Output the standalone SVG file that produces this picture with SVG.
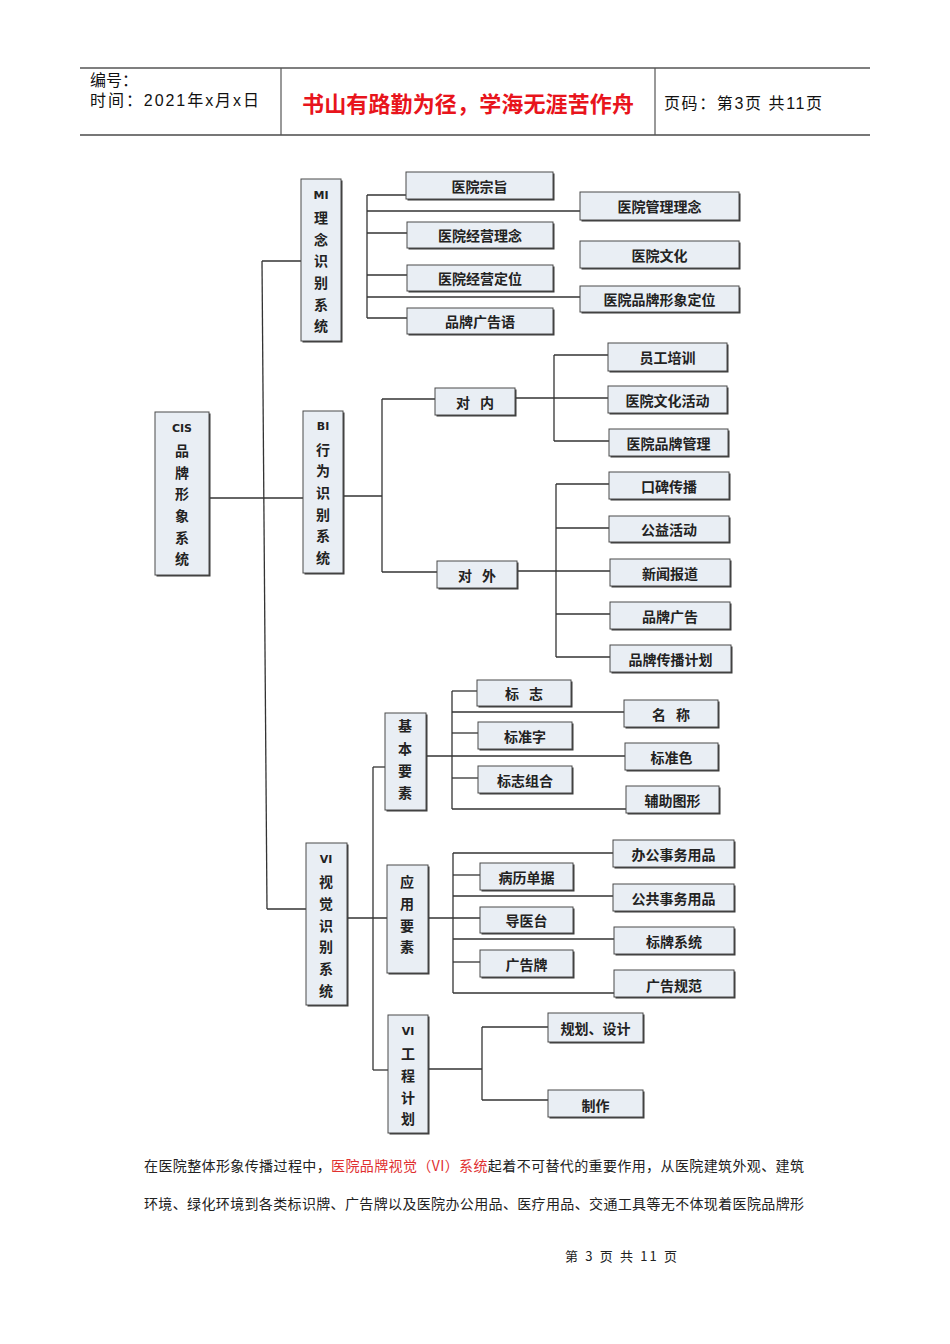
<svg xmlns="http://www.w3.org/2000/svg" width="950" height="1344" viewBox="0 0 950 1344">
<style>
.bx{fill:#e9eef4;stroke:#4a4a4a;stroke-width:1}
.sh{fill:#3a3a3a}
.t{font-family:"Noto Sans CJK SC","Noto Sans",sans-serif;font-size:14px;font-weight:bold;fill:#222;text-anchor:middle;dominant-baseline:central}
.lt{font-family:"DejaVu Sans","Liberation Sans",sans-serif;font-size:11px;font-weight:bold;fill:#222;text-anchor:middle;dominant-baseline:central}
.c line,.c polyline{stroke:#333;stroke-width:1.3;fill:none}
.h{font-family:"Liberation Sans","Noto Sans CJK SC",sans-serif;font-size:16px;fill:#111}
.p{font-family:"Noto Sans CJK SC",sans-serif;font-size:14px;fill:#222}
</style>
<rect width="950" height="1344" fill="#fff"/>
<g id="header">
<line x1="80" y1="68" x2="870" y2="68" stroke="#555" stroke-width="1.5"/>
<line x1="80" y1="135" x2="870" y2="135" stroke="#777" stroke-width="2"/>
<line x1="281" y1="68" x2="281" y2="135" stroke="#555" stroke-width="1.2"/>
<line x1="655" y1="68" x2="655" y2="135" stroke="#555" stroke-width="1.2"/>
<text class="h" x="90" y="86">编号：</text>
<text class="h" x="90" y="106" textLength="169" lengthAdjust="spacing">时间：2021年x月x日</text>
<text x="468" y="112" font-family="Noto Sans CJK SC,sans-serif" font-size="22" font-weight="bold" fill="#e8141c" text-anchor="middle" textLength="332" lengthAdjust="spacing">书山有路勤为径，学海无涯苦作舟</text>
<text class="h" x="664" y="109" textLength="158" lengthAdjust="spacing">页码：第3页 共11页</text>
</g>
<g id="connectors" class="c">
<line x1="262" y1="261" x2="301" y2="261"/>
<line x1="262" y1="261" x2="267" y2="909"/>
<line x1="267" y1="909" x2="306" y2="909"/>
<line x1="367" y1="195" x2="367" y2="318"/>
<line x1="367" y1="195" x2="406" y2="195"/>
<line x1="367" y1="211" x2="580" y2="211"/>
<line x1="367" y1="233" x2="407" y2="233"/>
<line x1="367" y1="275" x2="407" y2="275"/>
<line x1="367" y1="297" x2="580" y2="297"/>
<line x1="367" y1="318" x2="407" y2="318"/>
<line x1="209" y1="498" x2="303" y2="498"/>
<line x1="343" y1="496" x2="382" y2="496"/>
<line x1="382" y1="399" x2="382" y2="572"/>
<line x1="382" y1="399" x2="435" y2="399"/>
<line x1="382" y1="572" x2="437" y2="572"/>
<line x1="515" y1="398" x2="608" y2="398"/>
<line x1="554" y1="355" x2="554" y2="441"/>
<line x1="554" y1="355" x2="608" y2="355"/>
<line x1="554" y1="441" x2="609" y2="441"/>
<line x1="517" y1="571" x2="610" y2="571"/>
<line x1="556" y1="484" x2="556" y2="657"/>
<line x1="556" y1="484" x2="609" y2="484"/>
<line x1="556" y1="528" x2="609" y2="528"/>
<line x1="556" y1="614" x2="610" y2="614"/>
<line x1="556" y1="657" x2="610" y2="657"/>
<line x1="347" y1="918" x2="387" y2="918"/>
<line x1="373" y1="767" x2="373" y2="1070"/>
<line x1="373" y1="767" x2="385" y2="767"/>
<line x1="373" y1="1070" x2="388" y2="1070"/>
<line x1="426" y1="756" x2="625" y2="756"/>
<line x1="452" y1="691" x2="452" y2="809"/>
<line x1="452" y1="691" x2="477" y2="691"/>
<line x1="452" y1="712" x2="624" y2="712"/>
<line x1="452" y1="733" x2="478" y2="733"/>
<line x1="452" y1="778" x2="478" y2="778"/>
<line x1="452" y1="809" x2="626" y2="809"/>
<line x1="428" y1="918" x2="480" y2="918"/>
<line x1="453" y1="853" x2="453" y2="993"/>
<line x1="453" y1="853" x2="613" y2="853"/>
<line x1="453" y1="875" x2="480" y2="875"/>
<line x1="453" y1="896" x2="613" y2="896"/>
<line x1="453" y1="939" x2="614" y2="939"/>
<line x1="453" y1="962" x2="480" y2="962"/>
<line x1="453" y1="993" x2="614" y2="993"/>
<line x1="428" y1="1069" x2="482" y2="1069"/>
<line x1="482" y1="1027" x2="482" y2="1100"/>
<line x1="482" y1="1027" x2="548" y2="1027"/>
<line x1="482" y1="1100" x2="548" y2="1100"/>
</g>
<g id="cis"><rect class="sh" x="156.5" y="413.5" width="54" height="163"/><rect class="bx" x="155" y="412" width="54" height="163"/>
<text class="lt" x="182" y="428">CIS</text><text class="t" x="182" y="450">品</text><text class="t" x="182" y="472">牌</text><text class="t" x="182" y="493">形</text><text class="t" x="182" y="515">象</text><text class="t" x="182" y="537">系</text><text class="t" x="182" y="558">统</text></g>
<g id="mi"><rect class="sh" x="302.5" y="180.5" width="40" height="162"/><rect class="bx" x="301" y="179" width="40" height="162"/>
<text class="lt" x="321" y="195">MI</text><text class="t" x="321" y="217">理</text><text class="t" x="321" y="239">念</text><text class="t" x="321" y="260">识</text><text class="t" x="321" y="282">别</text><text class="t" x="321" y="304">系</text><text class="t" x="321" y="325">统</text></g>
<g id="bi"><rect class="sh" x="304.5" y="412.5" width="40" height="162"/><rect class="bx" x="303" y="411" width="40" height="162"/>
<text class="lt" x="323" y="426">BI</text><text class="t" x="323" y="449">行</text><text class="t" x="323" y="470">为</text><text class="t" x="323" y="492">识</text><text class="t" x="323" y="514">别</text><text class="t" x="323" y="535">系</text><text class="t" x="323" y="557">统</text></g>
<g id="vi"><rect class="sh" x="307.5" y="844.5" width="41" height="162"/><rect class="bx" x="306" y="843" width="41" height="162"/>
<text class="lt" x="326" y="859">VI</text><text class="t" x="326" y="881">视</text><text class="t" x="326" y="903">觉</text><text class="t" x="326" y="925">识</text><text class="t" x="326" y="946">别</text><text class="t" x="326" y="968">系</text><text class="t" x="326" y="990">统</text></g>
<g id="jbys"><rect class="sh" x="386.5" y="714.5" width="41" height="97"/><rect class="bx" x="385" y="713" width="41" height="97"/>
<text class="t" x="405" y="725">基</text><text class="t" x="405" y="748">本</text><text class="t" x="405" y="770">要</text><text class="t" x="405" y="792">素</text></g>
<g id="yyys"><rect class="sh" x="388.5" y="866.5" width="41" height="108"/><rect class="bx" x="387" y="865" width="41" height="108"/>
<text class="t" x="407" y="881">应</text><text class="t" x="407" y="903">用</text><text class="t" x="407" y="925">要</text><text class="t" x="407" y="946">素</text></g>
<g id="vigc"><rect class="sh" x="389.5" y="1016.5" width="40" height="118"/><rect class="bx" x="388" y="1015" width="40" height="118"/>
<text class="lt" x="408" y="1031">VI</text><text class="t" x="408" y="1053">工</text><text class="t" x="408" y="1075">程</text><text class="t" x="408" y="1097">计</text><text class="t" x="408" y="1118">划</text></g>
<g id="n1"><rect class="sh" x="407.5" y="173.5" width="147" height="27"/><rect class="bx" x="406" y="172" width="147" height="27"/><text class="t" x="479.5" y="185.5">医院宗旨</text></g>
<g id="n2"><rect class="sh" x="581.5" y="193.5" width="159" height="28"/><rect class="bx" x="580" y="192" width="159" height="28"/><text class="t" x="659.5" y="206">医院管理理念</text></g>
<g id="n3"><rect class="sh" x="408.5" y="223.5" width="146" height="26"/><rect class="bx" x="407" y="222" width="146" height="26"/><text class="t" x="480" y="235">医院经营理念</text></g>
<g id="n4"><rect class="sh" x="581.5" y="242.5" width="159" height="27"/><rect class="bx" x="580" y="241" width="159" height="27"/><text class="t" x="659.5" y="254.5">医院文化</text></g>
<g id="n5"><rect class="sh" x="408.5" y="266.5" width="146" height="26"/><rect class="bx" x="407" y="265" width="146" height="26"/><text class="t" x="480" y="278">医院经营定位</text></g>
<g id="n6"><rect class="sh" x="581.5" y="287.5" width="159" height="26"/><rect class="bx" x="580" y="286" width="159" height="26"/><text class="t" x="659.5" y="299">医院品牌形象定位</text></g>
<g id="n7"><rect class="sh" x="408.5" y="309.5" width="146" height="26"/><rect class="bx" x="407" y="308" width="146" height="26"/><text class="t" x="480" y="321">品牌广告语</text></g>
<g id="n8"><rect class="sh" x="436.5" y="389.5" width="80" height="27"/><rect class="bx" x="435" y="388" width="80" height="27"/><text class="t" y="401.5"><tspan x="463">对</tspan><tspan x="487">内</tspan></text></g>
<g id="n9"><rect class="sh" x="438.5" y="562.5" width="80" height="27"/><rect class="bx" x="437" y="561" width="80" height="27"/><text class="t" y="574.5"><tspan x="465">对</tspan><tspan x="489">外</tspan></text></g>
<g id="n10"><rect class="sh" x="609.5" y="344.5" width="119" height="28"/><rect class="bx" x="608" y="343" width="119" height="28"/><text class="t" x="667.5" y="357">员工培训</text></g>
<g id="n11"><rect class="sh" x="609.5" y="387.5" width="119" height="27"/><rect class="bx" x="608" y="386" width="119" height="27"/><text class="t" x="667.5" y="399.5">医院文化活动</text></g>
<g id="n12"><rect class="sh" x="610.5" y="430.5" width="119" height="27"/><rect class="bx" x="609" y="429" width="119" height="27"/><text class="t" x="668.5" y="442.5">医院品牌管理</text></g>
<g id="n13"><rect class="sh" x="610.5" y="473.5" width="120" height="27"/><rect class="bx" x="609" y="472" width="120" height="27"/><text class="t" x="669" y="485.5">口碑传播</text></g>
<g id="n14"><rect class="sh" x="610.5" y="517.5" width="120" height="26"/><rect class="bx" x="609" y="516" width="120" height="26"/><text class="t" x="669" y="529">公益活动</text></g>
<g id="n15"><rect class="sh" x="611.5" y="560.5" width="120" height="27"/><rect class="bx" x="610" y="559" width="120" height="27"/><text class="t" x="670" y="572.5">新闻报道</text></g>
<g id="n16"><rect class="sh" x="611.5" y="603.5" width="120" height="27"/><rect class="bx" x="610" y="602" width="120" height="27"/><text class="t" x="670" y="615.5">品牌广告</text></g>
<g id="n17"><rect class="sh" x="611.5" y="646.5" width="121" height="27"/><rect class="bx" x="610" y="645" width="121" height="27"/><text class="t" x="670.5" y="658.5">品牌传播计划</text></g>
<g id="n18"><rect class="sh" x="478.5" y="681.5" width="94" height="26"/><rect class="bx" x="477" y="680" width="94" height="26"/><text class="t" y="693"><tspan x="512">标</tspan><tspan x="536">志</tspan></text></g>
<g id="n19"><rect class="sh" x="625.5" y="701.5" width="94" height="27"/><rect class="bx" x="624" y="700" width="94" height="27"/><text class="t" y="713.5"><tspan x="659">名</tspan><tspan x="683">称</tspan></text></g>
<g id="n20"><rect class="sh" x="479.5" y="723.5" width="94" height="27"/><rect class="bx" x="478" y="722" width="94" height="27"/><text class="t" x="525" y="735.5">标准字</text></g>
<g id="n21"><rect class="sh" x="626.5" y="744.5" width="93" height="27"/><rect class="bx" x="625" y="743" width="93" height="27"/><text class="t" x="671.5" y="756.5">标准色</text></g>
<g id="n22"><rect class="sh" x="479.5" y="767.5" width="94" height="27"/><rect class="bx" x="478" y="766" width="94" height="27"/><text class="t" x="525" y="779.5">标志组合</text></g>
<g id="n23"><rect class="sh" x="627.5" y="787.5" width="93" height="27"/><rect class="bx" x="626" y="786" width="93" height="27"/><text class="t" x="672.5" y="799.5">辅助图形</text></g>
<g id="n24"><rect class="sh" x="614.5" y="841.5" width="121" height="27"/><rect class="bx" x="613" y="840" width="121" height="27"/><text class="t" x="673.5" y="853.5">办公事务用品</text></g>
<g id="n25"><rect class="sh" x="481.5" y="864.5" width="93" height="27"/><rect class="bx" x="480" y="863" width="93" height="27"/><text class="t" x="526.5" y="876.5">病历单据</text></g>
<g id="n26"><rect class="sh" x="614.5" y="885.5" width="121" height="27"/><rect class="bx" x="613" y="884" width="121" height="27"/><text class="t" x="673.5" y="897.5">公共事务用品</text></g>
<g id="n27"><rect class="sh" x="481.5" y="908.5" width="93" height="26"/><rect class="bx" x="480" y="907" width="93" height="26"/><text class="t" x="526.5" y="920">导医台</text></g>
<g id="n28"><rect class="sh" x="615.5" y="928.5" width="120" height="27"/><rect class="bx" x="614" y="927" width="120" height="27"/><text class="t" x="674" y="940.5">标牌系统</text></g>
<g id="n29"><rect class="sh" x="481.5" y="951.5" width="93" height="27"/><rect class="bx" x="480" y="950" width="93" height="27"/><text class="t" x="526.5" y="963.5">广告牌</text></g>
<g id="n30"><rect class="sh" x="615.5" y="971.5" width="120" height="27"/><rect class="bx" x="614" y="970" width="120" height="27"/><text class="t" x="674" y="984.5">广告规范</text></g>
<g id="n31"><rect class="sh" x="549.5" y="1014.5" width="95" height="29"/><rect class="bx" x="548" y="1013" width="95" height="29"/><text class="t" x="595.5" y="1027.5">规划、设计</text></g>
<g id="n32"><rect class="sh" x="549.5" y="1091.5" width="95" height="27"/><rect class="bx" x="548" y="1090" width="95" height="27"/><text class="t" x="595.5" y="1104.5">制作</text></g>
<g id="body">
<text class="p" x="144" y="1171" textLength="660" lengthAdjust="spacing">在医院整体形象传播过程中，<tspan fill="#e03030">医院品牌视觉（VI）系统</tspan>起着不可替代的重要作用，从医院建筑外观、建筑</text>
<text class="p" x="144" y="1209" textLength="660" lengthAdjust="spacing">环境、绿化环境到各类标识牌、广告牌以及医院办公用品、医疗用品、交通工具等无不体现着医院品牌形</text>
<text x="565" y="1261" font-family="Noto Sans CJK SC,sans-serif" font-size="13" fill="#222" textLength="112" lengthAdjust="spacing">第 3 页 共 11 页</text>
</g>
</svg>
